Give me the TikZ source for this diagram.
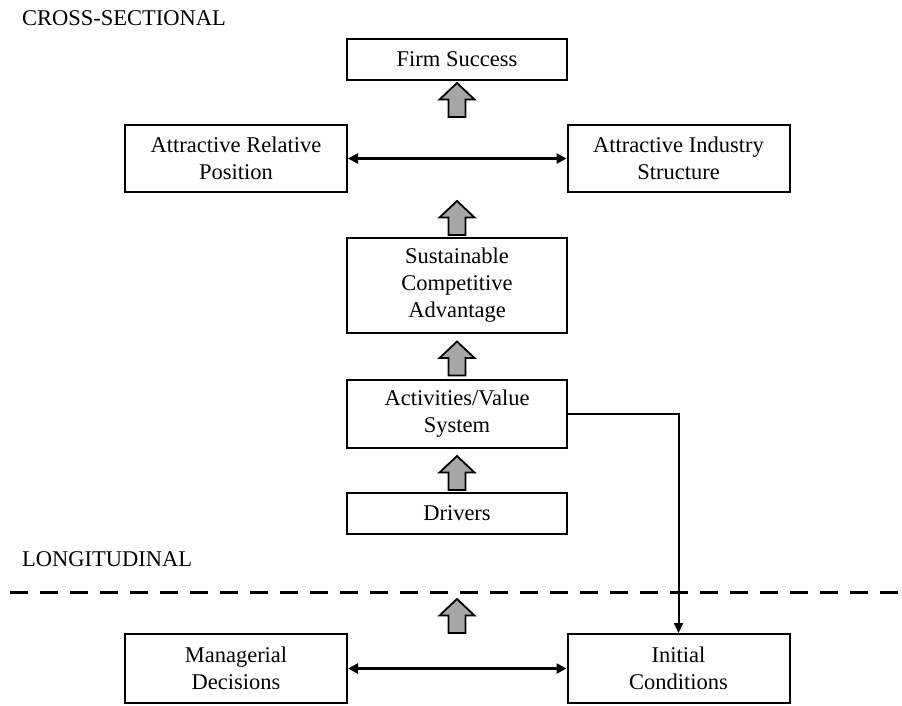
\documentclass[tikz,border=0pt]{standalone}
\usepackage{fontspec}
\setmainfont{Liberation Serif}
\usetikzlibrary{arrows.meta}
\definecolor{blockgray}{RGB}{166,166,166}
\begin{document}
\begin{tikzpicture}[x=1pt,y=-1pt,
  font=\fontsize{22.5}{27}\selectfont,
  box/.style={draw, line width=2pt, rectangle, align=center, inner sep=0pt},
  wide/.style={minimum width=220pt},
  link/.style={line width=2.6pt, {Triangle[length=10pt,width=10pt]}-{Triangle[length=10pt,width=10pt]}},
  drop/.style={line width=2pt, -{Triangle[length=10pt,width=9pt]}},
  upblock/.pic={\draw[fill=blockgray, line width=1.8pt, line join=miter]
      (-8.5,17) -- (-8.5,-0.5) -- (-17.5,-0.5) -- (0,-17) -- (17.5,-0.5) -- (8.5,-0.5) -- (8.5,17) -- cycle;},
  label/.style={anchor=west, inner sep=0pt}
]
\useasboundingbox (0,0) rectangle (902,705);

% section labels
\node[label] (cs) at (22,18) {CROSS-SECTIONAL};
\node[label] (lg) at (22,559) {LONGITUDINAL};

% boxes
\node[box, wide, minimum height=41pt] (fs) at (457,59.5) {Firm Success};
\node[box, minimum width=222pt, minimum height=67pt] (arp) at (236,158.5) {Attractive Relative\\Position};
\node[box, minimum width=222pt, minimum height=67pt] (ais) at (678.5,158.5) {Attractive Industry\\Structure};
\node[box, wide, minimum height=95pt] (sca) at (457,285) {Sustainable\\Competitive\\Advantage};
\node[box, wide, minimum height=68pt] (avs) at (457,413.5) {Activities/Value\\System};
\node[box, wide, minimum height=41pt] (drv) at (457,513.5) {Drivers};
\node[box, minimum width=222pt, minimum height=69pt] (md) at (236,668.5) {Managerial\\Decisions};
\node[box, minimum width=222pt, minimum height=69pt] (ic) at (678.5,668.5) {Initial\\Conditions};

% block arrows
\pic at (457,100) {upblock};
\pic at (457,218) {upblock};
\pic at (457,358.5) {upblock};
\pic at (457,473) {upblock};
\pic at (457,616) {upblock};

% connectors
\draw[link] (arp.east) -- (ais.west);
\draw[link] (md.east) -- (ic.west);
\draw[drop] (avs.east) -| (ic.north);

% divider between the two views
\coordinate (dl) at (10,592);
\coordinate (dr) at (902,592);
\draw[line width=3pt, dash pattern=on 18pt off 12pt] (dl) -- (dr);
\end{tikzpicture}
\end{document}
